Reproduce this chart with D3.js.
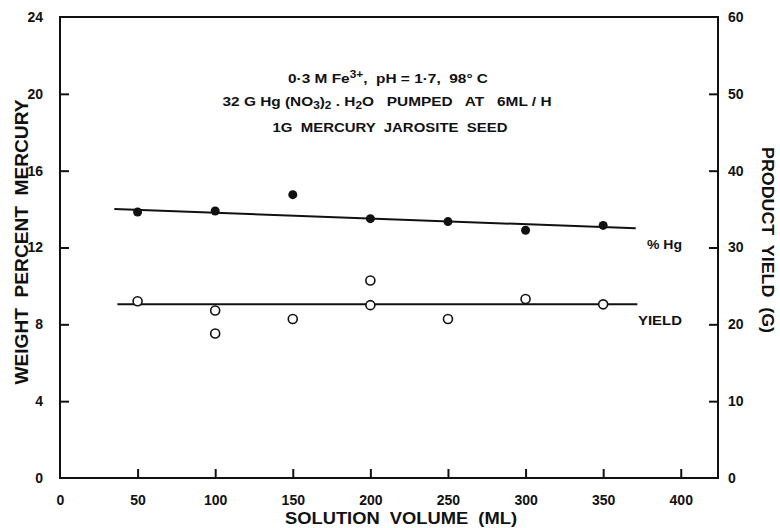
<!DOCTYPE html>
<html>
<head>
<meta charset="utf-8">
<script src="https://cdn.jsdelivr.net/npm/d3@7"></script>
<style>
  body { margin: 0; background: #fff; }
  svg text { font-family: "Liberation Sans", Arial, sans-serif; font-weight: bold; fill: #111; white-space: pre; }
</style>
</head>
<body>
<svg id="chart" width="780" height="528"></svg>
<script>
// data
const volumes = [50, 100, 100, 150, 200, 200, 250, 300, 350];
const yieldGrams = [23.0, 21.8, 18.8, 20.7, 25.7, 22.5, 20.7, 23.3, 22.6];
const hgVolumes = [50, 100, 150, 200, 250, 300, 350];
const hgPercent = [13.85, 13.9, 14.75, 13.5, 13.35, 12.9, 13.15];
const hgFit = [[35, 14.0], [371, 13.0]];
const yieldFit = [[37, 22.6], [372, 22.6]];

const xTicks = [0, 50, 100, 150, 200, 250, 300, 350, 400];
const leftTicks = [0, 4, 8, 12, 16, 20, 24];
const rightTicks = [0, 10, 20, 30, 40, 50, 60];

const svg = d3.select('#chart');
const margin = { left: 60, right: 62, top: 17, bottom: 50 };
const W = 780, H = 528;

const x = d3.scaleLinear().domain([0, 424]).range([margin.left, W - margin.right]);
const yL = d3.scaleLinear().domain([0, 24]).range([H - margin.bottom, margin.top]);
const yR = d3.scaleLinear().domain([0, 60]).range([H - margin.bottom, margin.top]);

const ink = '#111';

// frame
svg.append('rect')
  .attr('x', margin.left)
  .attr('y', margin.top)
  .attr('width', W - margin.left - margin.right)
  .attr('height', H - margin.top - margin.bottom)
  .attr('fill', 'none')
  .attr('stroke', ink)
  .attr('stroke-width', 2);

// axes, ticks pointing inward
const xAxis = svg.append('g')
  .attr('transform', `translate(0, ${H - margin.bottom})`)
  .call(d3.axisBottom(x).tickValues(xTicks).tickSizeInner(-9).tickSizeOuter(0).tickPadding(17));

const leftAxis = svg.append('g')
  .attr('transform', `translate(${margin.left}, 0)`)
  .call(d3.axisLeft(yL).tickValues(leftTicks).tickSizeInner(-9).tickSizeOuter(0).tickPadding(17));

const rightAxis = svg.append('g')
  .attr('transform', `translate(${W - margin.right}, 0)`)
  .call(d3.axisRight(yR).tickValues(rightTicks).tickSizeInner(-9).tickSizeOuter(0).tickPadding(10));

[xAxis, leftAxis, rightAxis].forEach((g) => {
  g.select('.domain').remove();
  g.selectAll('line').attr('stroke', ink).attr('stroke-width', 2);
  g.selectAll('text').attr('font-size', 14).attr('font-family', null).attr('fill', ink);
});
// ticks only where the frame does not already sit
xAxis.selectAll('.tick').filter((d) => d === 0).select('line').remove();
leftAxis.selectAll('.tick').filter((d) => d === 0 || d === 24).select('line').remove();
rightAxis.selectAll('.tick').filter((d) => d === 0 || d === 60).select('line').remove();

// fit lines
const lineL = d3.line().x((d) => x(d[0])).y((d) => yL(d[1]));
const lineR = d3.line().x((d) => x(d[0])).y((d) => yR(d[1]));
svg.append('path').attr('d', lineL(hgFit)).attr('stroke', ink).attr('stroke-width', 2).attr('fill', 'none');
svg.append('path').attr('d', lineR(yieldFit)).attr('stroke', ink).attr('stroke-width', 2).attr('fill', 'none');

// % Hg points
svg.selectAll('.hg')
  .data(hgVolumes)
  .enter()
  .append('circle')
  .attr('cx', (d) => x(d))
  .attr('cy', (d, i) => yL(hgPercent[i]))
  .attr('r', 4.5)
  .attr('fill', ink);

// yield points
svg.selectAll('.yield')
  .data(volumes)
  .enter()
  .append('circle')
  .attr('cx', (d) => x(d))
  .attr('cy', (d, i) => yR(yieldGrams[i]))
  .attr('r', 4.5)
  .attr('fill', '#fff')
  .attr('stroke', ink)
  .attr('stroke-width', 1.6);

// series labels
svg.append('text').attr('x', 647).attr('y', 249).attr('font-size', 13)
  .attr('textLength', 35).attr('lengthAdjust', 'spacingAndGlyphs').text('% Hg');
svg.append('text').attr('x', 638).attr('y', 325).attr('font-size', 13)
  .attr('textLength', 44).attr('lengthAdjust', 'spacingAndGlyphs').text('YIELD');

// conditions note
const note = svg.append('g').attr('font-size', 13).attr('text-anchor', 'middle');
const l1 = note.append('text').attr('x', 388).attr('y', 83)
  .attr('textLength', 200).attr('lengthAdjust', 'spacingAndGlyphs');
l1.append('tspan').text('0·3 M Fe');
l1.append('tspan').attr('dy', -5).attr('font-size', 10).text('3+');
l1.append('tspan').attr('dy', 5).text(',  pH = 1·7,  98° C');
const l2 = note.append('text').attr('x', 387).attr('y', 106)
  .attr('textLength', 329).attr('lengthAdjust', 'spacingAndGlyphs');
l2.append('tspan').text('32 G Hg (NO');
l2.append('tspan').attr('dy', 3).attr('font-size', 10).text('3');
l2.append('tspan').attr('dy', -3).text(')');
l2.append('tspan').attr('dy', 3).attr('font-size', 10).text('2');
l2.append('tspan').attr('dy', -3).text(' . H');
l2.append('tspan').attr('dy', 3).attr('font-size', 10).text('2');
l2.append('tspan').attr('dy', -3).text('O   PUMPED   AT   6ML / H');
note.append('text').attr('x', 390).attr('y', 132)
  .attr('textLength', 235).attr('lengthAdjust', 'spacingAndGlyphs')
  .text('1G  MERCURY  JAROSITE  SEED');

// axis titles
svg.append('text')
  .attr('x', 401).attr('y', 524)
  .attr('text-anchor', 'middle')
  .attr('font-size', 17)
  .attr('textLength', 232).attr('lengthAdjust', 'spacingAndGlyphs')
  .text('SOLUTION  VOLUME  (ML)');
svg.append('text')
  .attr('transform', 'translate(28, 242) rotate(-90)')
  .attr('text-anchor', 'middle')
  .attr('font-size', 18)
  .attr('textLength', 285).attr('lengthAdjust', 'spacingAndGlyphs')
  .text('WEIGHT  PERCENT  MERCURY');
svg.append('text')
  .attr('transform', 'translate(762, 240) rotate(90)')
  .attr('text-anchor', 'middle')
  .attr('font-size', 17)
  .attr('textLength', 186).attr('lengthAdjust', 'spacingAndGlyphs')
  .text('PRODUCT  YIELD  (G)');
</script>
</body>
</html>
